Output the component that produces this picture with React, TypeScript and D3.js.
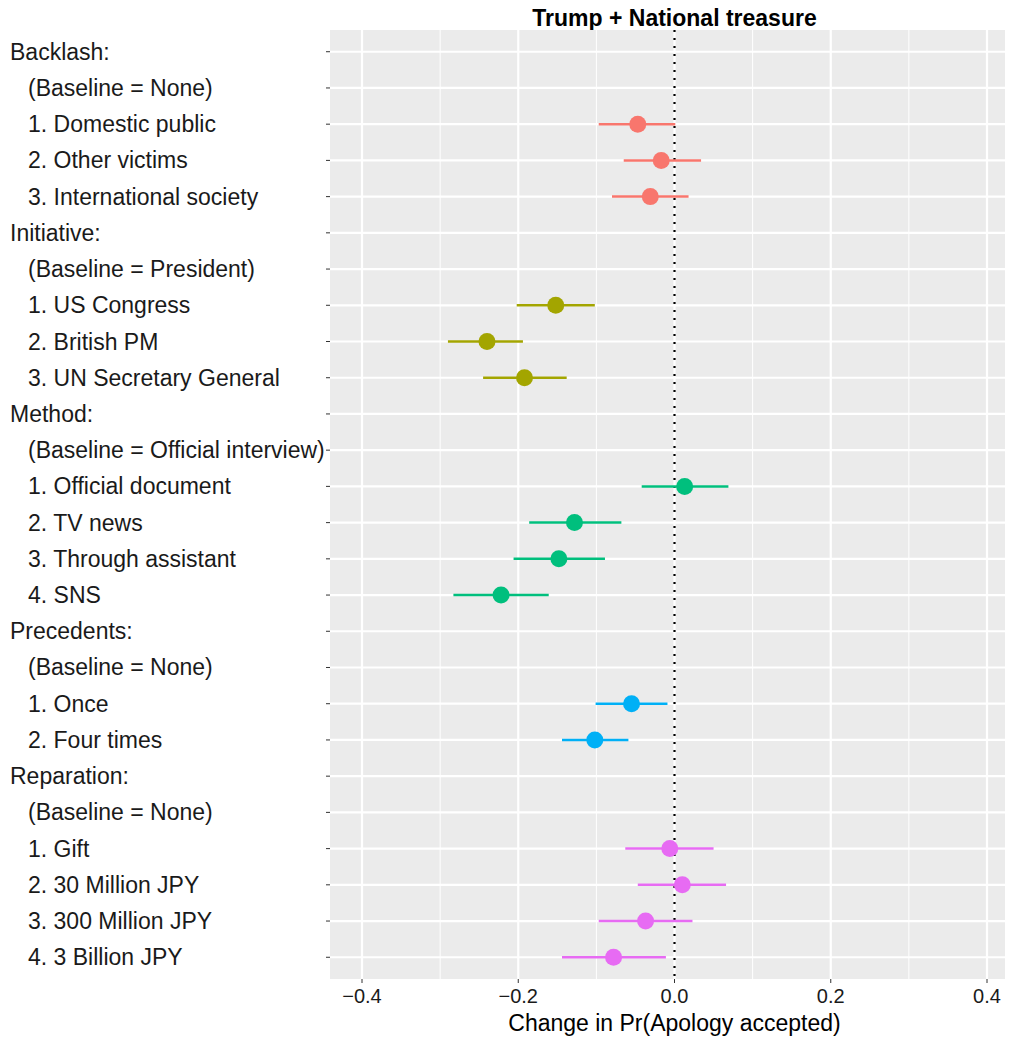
import React from 'react';
import * as d3 from 'd3';

// row labels, top to bottom
const labels = [
  'Backlash:', '(Baseline = None)', '1. Domestic public', '2. Other victims', '3. International society',
  'Initiative:', '(Baseline = President)', '1. US Congress', '2. British PM', '3. UN Secretary General',
  'Method:', '(Baseline = Official interview)', '1. Official document', '2. TV news', '3. Through assistant', '4. SNS',
  'Precedents:', '(Baseline = None)', '1. Once', '2. Four times',
  'Reparation:', '(Baseline = None)', '1. Gift', '2. 30 Million JPY', '3. 300 Million JPY', '4. 3 Billion JPY',
];
const headers = ['Backlash:', 'Initiative:', 'Method:', 'Precedents:', 'Reparation:'];

// estimates (null = no estimate on that row)
const groups = ['Backlash', 'Initiative', 'Method', 'Precedents', 'Reparation'];
const rowGroup = [0, 0, 0, 0, 0, 1, 1, 1, 1, 1, 2, 2, 2, 2, 2, 2, 3, 3, 3, 3, 4, 4, 4, 4, 4, 4];
const est = [null, null, -0.047, -0.017, -0.031, null, null, -0.152, -0.240, -0.192, null, null, 0.013, -0.128, -0.148, -0.222, null, null, -0.055, -0.102, null, null, -0.006, 0.010, -0.037, -0.078];
const lo = [null, null, -0.097, -0.065, -0.080, null, null, -0.202, -0.290, -0.245, null, null, -0.042, -0.186, -0.206, -0.283, null, null, -0.101, -0.144, null, null, -0.063, -0.047, -0.097, -0.144];
const hi = [null, null, 0.001, 0.034, 0.018, null, null, -0.102, -0.194, -0.138, null, null, 0.069, -0.068, -0.089, -0.161, null, null, -0.009, -0.059, null, null, 0.050, 0.066, 0.023, -0.011];
const xTicks = [-0.4, -0.2, 0, 0.2, 0.4];
const xMinor = [-0.3, -0.1, 0.1, 0.3];
const colors = ['#F8766D', '#A3A500', '#00BF7D', '#00B0F6', '#E76BF3'];

const W = 1011;
const H = 1039;
const panel = { left: 330, right: 1005, top: 30, bottom: 979 };

export default function App() {
  const x = d3.scaleLinear().domain([-0.4, 0.4]).range([362, 987]);
  const y = d3.scalePoint<number>().domain(d3.range(labels.length)).range([panel.top, panel.bottom]).padding(0.6);
  const color = d3.scaleOrdinal<number, string>().domain(d3.range(groups.length)).range(colors);
  const font = '"Liberation Sans", Arial, sans-serif';

  return (
    <svg width={W} height={H} style={{ position: 'absolute', left: 0, top: 0 }} fontFamily={font}>
      <rect x={0} y={0} width={W} height={H} fill="#fff" />
      <text x={x(0)} y={26} textAnchor="middle" fontSize={23} fontWeight="bold">
        Trump + National treasure
      </text>
      <rect x={panel.left} y={panel.top} width={panel.right - panel.left} height={panel.bottom - panel.top} fill="#EBEBEB" />
      {xMinor.map((t) => (
        <line key={'m' + t} x1={x(t)} x2={x(t)} y1={panel.top} y2={panel.bottom} stroke="#fff" strokeWidth={1} />
      ))}
      {xTicks.map((t) => (
        <line key={'g' + t} x1={x(t)} x2={x(t)} y1={panel.top} y2={panel.bottom} stroke="#fff" strokeWidth={2.2} />
      ))}
      {labels.map((_, i) => (
        <line key={'h' + i} x1={panel.left} x2={panel.right} y1={y(i)} y2={y(i)} stroke="#fff" strokeWidth={2.2} />
      ))}
      <line x1={x(0)} x2={x(0)} y1={panel.top} y2={panel.bottom} stroke="#000" strokeWidth={2.2} strokeDasharray="2,6" />
      {labels.map((_, i) =>
        est[i] === null ? null : (
          <g key={'p' + i}>
            <line x1={x(lo[i] as number)} x2={x(hi[i] as number)} y1={y(i)} y2={y(i)} stroke={color(rowGroup[i])} strokeWidth={2.5} />
            <circle cx={x(est[i] as number)} cy={y(i)} r={8.5} fill={color(rowGroup[i])} />
          </g>
        )
      )}
      {/* y axis ticks + labels */}
      {labels.map((l, i) => (
        <g key={'l' + i}>
          <line x1={panel.left - 4} x2={panel.left} y1={y(i)} y2={y(i)} stroke="#333" strokeWidth={1} />
          <text x={headers.includes(l) ? 10 : 28} y={(y(i) as number) + 8} fontSize={23} fill="#1a1a1a">
            {l}
          </text>
        </g>
      ))}
      {/* x axis */}
      {xTicks.map((t) => (
        <g key={'t' + t}>
          <line x1={x(t)} x2={x(t)} y1={panel.bottom} y2={panel.bottom + 4} stroke="#333" strokeWidth={1} />
          <text x={x(t)} y={panel.bottom + 24} textAnchor="middle" fontSize={20} fill="#1a1a1a">
            {d3.format('.1f')(t).replace('-', '\u2212')}
          </text>
        </g>
      ))}
      <text x={x(0)} y={1031} textAnchor="middle" fontSize={23} fill="#000">
        Change in Pr(Apology accepted)
      </text>
    </svg>
  );
}
